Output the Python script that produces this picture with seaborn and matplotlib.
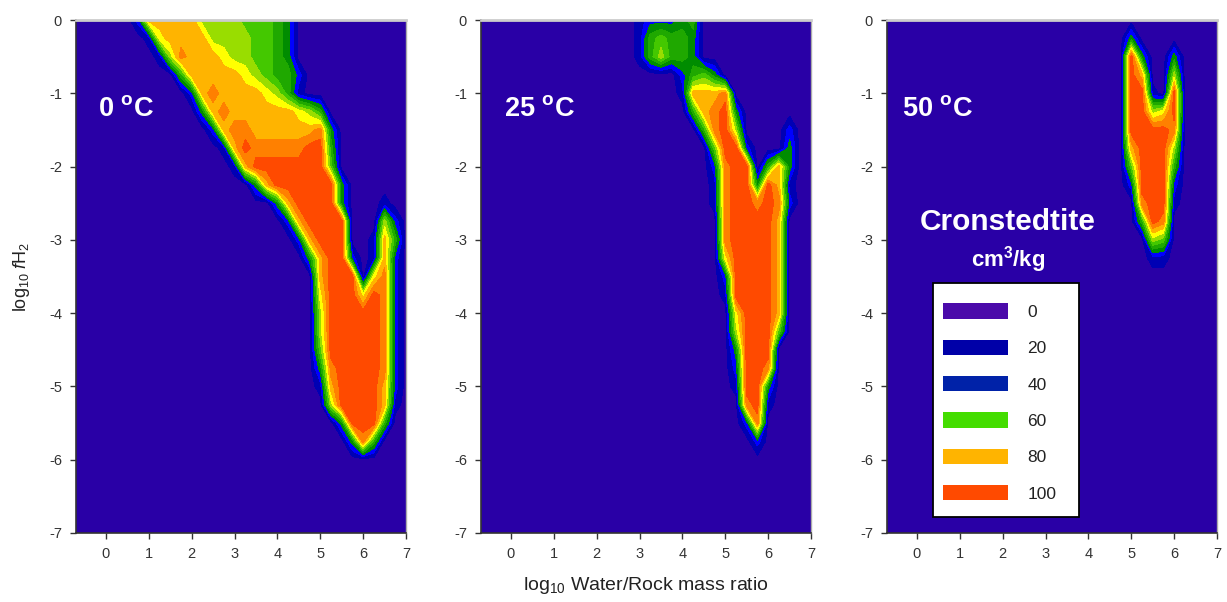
import numpy as np
import matplotlib
matplotlib.use("Agg")
import matplotlib.pyplot as plt
import seaborn as sns
from matplotlib.patches import Patch, Rectangle

# ---------------- data ----------------
# grid nodes: log10 W/R from -0.75 to 7 (step 0.25), log10 fH2 from 0 to -7 (step 0.25)
x_vals = np.arange(-0.75, 7.0001, 0.25)
y_vals = np.arange(0.0, -7.0001, -0.25)

# Cronstedtite volume (cm3/kg) at each node: '.'=0, '1'..'9' = 10..90, 'A' = 100.
# One string per fH2 row (0, -0.25, ...); 8 groups of 4 W/R nodes, each group ends at x = 0,1,...,7.
rows_0C = [
    ".... ..28 8888 6666 5554 3... .... ....",
    ".... ...1 7888 8666 6554 3... .... ....",
    ".... .... 1698 8876 6554 3... .... ....",
    ".... .... ..48 8888 7654 42.. .... ....",
    ".... .... ...2 8988 8876 41.. .... ....",
    ".... .... .... 3898 8888 8764 .... ....",
    ".... .... .... .289 9888 8889 3... ....",
    ".... .... .... ..18 A999 99AA 4... ....",
    ".... .... .... ...1 8AAA AAAA 5... ....",
    ".... .... .... .... .38A AAAA A3.. ....",
    ".... .... .... .... ...3 8AAA A3.. .1..",
    ".... .... .... .... .... 28AA AA.. .62.",
    ".... .... .... .... .... .28A AA.. 184.",
    ".... .... .... .... .... ..38 AA2. 182.",
    ".... .... .... .... .... ...8 AAA. 792.",
    ".... .... .... .... .... ...7 AAA7 A92.",
    ".... .... .... .... .... ...6 AAAA A92.",
    ".... .... .... .... .... ...6 AAAA A92.",
    ".... .... .... .... .... ...5 AAAA A92.",
    ".... .... .... .... .... ...3 9AAA A92.",
    ".... .... .... .... .... ...1 8AAA A82.",
    ".... .... .... .... .... .... 6AAA A81.",
    ".... .... .... .... .... .... .3AA A4..",
    ".... .... .... .... .... .... ..39 4...",
]
rows_25C = [
    ".... .... .... ...1 2223 4... .... ....",
    ".... .... .... ...1 4544 3... .... ....",
    ".... .... .... ...1 4644 3... .... ....",
    ".... .... .... .... ...2 453. .... ....",
    ".... .... .... .... ...1 8889 .... ....",
    ".... .... .... .... .... 489A 3... ....",
    ".... .... .... .... .... .49A 6... .2..",
    ".... .... .... .... .... ..5A A2.. .3..",
    ".... .... .... .... .... ..29 AA.4 83..",
    ".... .... .... .... .... ..19 AA3A 81..",
    ".... .... .... .... .... ..19 AA9A 92..",
    ".... .... .... .... .... ...9 AAAA 8...",
    ".... .... .... .... .... ...9 AAAA 8...",
    ".... .... .... .... .... ...7 AAAA 8...",
    ".... .... .... .... .... ...2 AAAA 8...",
    ".... .... .... .... .... ...1 AAAA 8...",
    ".... .... .... .... .... .... 7AAA 8...",
    ".... .... .... .... .... .... 6AAA 5...",
    ".... .... .... .... .... .... 3AAA ....",
    ".... .... .... .... .... .... 2AA9 ....",
    ".... .... .... .... .... .... 1AA3 ....",
    ".... .... .... .... .... .... .9A1 ....",
    ".... .... .... .... .... .... .29. ....",
    ".... .... .... .... .... .... ..2. ....",
]
rows_50C = [
    ".... .... .... .... .... .... .... ....",
    ".... .... .... .... .... ...3 .... ....",
    ".... .... .... .... .... ...A 3..3 ....",
    ".... .... .... .... .... ...A 8..6 ....",
    ".... .... .... .... .... ...A A1.A ....",
    ".... .... .... .... .... ...A A67A ....",
    ".... .... .... .... .... ...A AAA9 ....",
    ".... .... .... .... .... ...8 AAA6 ....",
    ".... .... .... .... .... ...5 AAA4 ....",
    ".... .... .... .... .... ...2 AAA2 ....",
    ".... .... .... .... .... .... 9AA1 ....",
    ".... .... .... .... .... .... 4A9. ....",
    ".... .... .... .... .... .... .65. ....",
    ".... .... .... .... .... .... .11. ....",
]
panel_labels = [r"0 $^{\mathbf{o}}$C", r"25 $^{\mathbf{o}}$C", r"50 $^{\mathbf{o}}$C"]
panel_label_x = [-0.18, -0.16, -0.36]

legend_values = ["0", "20", "40", "60", "80", "100"]
legend_colors = ["#4B0AAA", "#0000A8", "#0022A8", "#44DD00", "#FFB400", "#FF4A00"]

# contour bands
levels = [-5, 5, 15, 25, 35, 45, 55, 65, 75, 85, 95, 105]
band_colors = ["#2900A6", "#0000B4", "#0000FF", "#008C00", "#1FA800", "#44C800",
               "#99DD00", "#FFFF00", "#FFB400", "#FF8000", "#FF4A00"]

code = {ch: 10.0 * i for i, ch in enumerate(".123456789A")}


def to_grid(rows):
    g = np.zeros((len(y_vals), len(x_vals)))
    for i, r in enumerate(rows):
        r = r.replace(" ", "")
        assert len(r) == len(x_vals), (i, r, len(r))
        g[i] = [code[ch] for ch in r]
    return g


# ---------------- style ----------------
sns.set_style("ticks")
plt.rcParams["font.family"] = ["Liberation Sans", "DejaVu Sans"]
plt.rcParams["axes.unicode_minus"] = False
plt.rcParams["mathtext.fontset"] = "custom"
plt.rcParams["mathtext.rm"] = "Liberation Sans"
plt.rcParams["mathtext.it"] = "Liberation Sans:italic"
plt.rcParams["mathtext.bf"] = "Liberation Sans:bold"

fig = plt.figure(figsize=(12.27, 6.02), dpi=100)
lefts = [76 / 1227, 481 / 1227, 887 / 1227]
W = 330 / 1227
B = (602 - 533) / 602
H = 513 / 602

X, Y = np.meshgrid(x_vals, y_vals)
axes = []
for k, rows in enumerate([rows_0C, rows_25C, rows_50C]):
    ax = fig.add_axes([lefts[k], B, W, H])
    Z = to_grid(rows)
    ax.contourf(X, Y, Z, levels=levels, colors=band_colors, antialiased=False)
    ax.set_xlim(-0.7, 7)
    ax.set_ylim(-7, 0)
    ax.set_xticks(range(0, 8))
    ax.set_yticks(range(-7, 1))
    ax.tick_params(axis="both", direction="out", length=4, width=1,
                   labelsize=10.5, labelcolor="#333333", color="#333333", pad=6)
    for s in ["left", "bottom"]:
        ax.spines[s].set_color("#333333")
        ax.spines[s].set_linewidth(1.2)
    ax.spines["top"].set_color("#CCCCCC")
    ax.spines["top"].set_linewidth(2.0)
    ax.spines["right"].set_color("#AAAAAA")
    ax.spines["right"].set_linewidth(1.0)
    ax.text(panel_label_x[k], -1.22, panel_labels[k], color="white", fontsize=19.5,
            fontweight="bold", ha="left", va="center")
    axes.append(ax)

axes[0].set_ylabel(r"log$_{\mathregular{10}}$ $\mathit{f}$H$_{\mathregular{2}}$",
                   fontsize=13, color="#222222", labelpad=12)
axes[1].set_xlabel(r"log$_{\mathregular{10}}$ Water/Rock mass ratio",
                   fontsize=14, color="#222222", labelpad=10)

ax3 = axes[2]
ax3.text(0.367, 0.606, "Cronstedtite", transform=ax3.transAxes, color="white",
         fontsize=21.5, fontweight="bold", ha="center", va="center")
ax3.text(0.367, 0.534, r"cm$^{\mathbf{3}}$/kg", transform=ax3.transAxes, color="white",
         fontsize=16, fontweight="bold", ha="center", va="center")
ax3.add_patch(Rectangle((0.139, 0.031), 0.443, 0.456, transform=ax3.transAxes,
                        facecolor="white", edgecolor="black", lw=1.3, zorder=4))
handles = [Patch(facecolor=c, edgecolor="none") for c in legend_colors]
leg = ax3.legend(handles, legend_values, loc="upper left", bbox_to_anchor=(0.170, 0.448),
                 frameon=False, fontsize=12.5, handlelength=3.75, handleheight=1.0,
                 handletextpad=1.1, labelspacing=1.13, borderpad=0, borderaxespad=0)
leg.set_zorder(6)
for t in leg.get_texts():
    t.set_color("#222222")

fig.savefig("out.png", dpi=100, facecolor="white")
